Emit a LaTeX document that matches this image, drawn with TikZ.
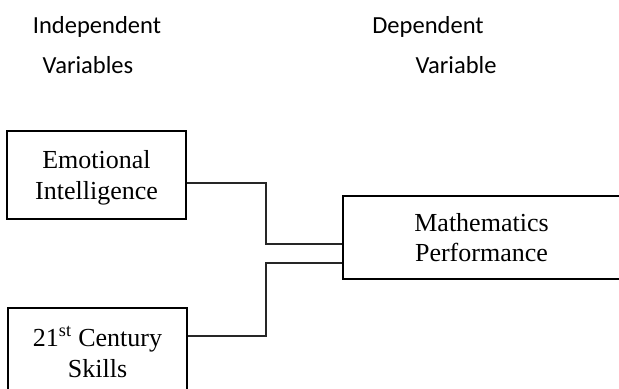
\documentclass[tikz,border=0pt]{standalone}
\usepackage{fontspec}
\setmainfont{Liberation Serif}
\newfontfamily\hdrfont{Carlito}
\begin{document}
\begin{tikzpicture}[x=0.75pt,y=-0.75pt,
  varbox/.style={draw=black, line width=1.1pt, inner sep=0pt, align=center,
    text depth=0pt, font=\fontsize{19.5pt}{23pt}\selectfont},
  hdr/.style={anchor=base, inner sep=0pt, font=\hdrfont\fontsize{18.4pt}{22pt}\selectfont},
  link/.style={draw=black!85, line width=0.8pt}]
\useasboundingbox (0,0) rectangle (619,389);
\clip (0,0) rectangle (619,389);
\node[hdr] (h1) at (97,33) {Independent};
\node[hdr] (h2) at (88,73) {Variables};
\node[hdr] (h3) at (428,33) {Dependent};
\node[hdr] (h4) at (456,73) {Variable};
\node[varbox, minimum width=134.25pt, minimum height=66pt] (ei) at (96.5,175) {Emotional\\Intelligence};
\node[varbox, minimum width=134.25pt, minimum height=66pt] (cs) at (97.5,352) {21\textsuperscript{st} Century\\Skills};
\node[varbox, minimum width=207.75pt, minimum height=62.25pt] (mp) at (481.5,237.5) {Mathematics\\Performance};
\coordinate (j1) at (266,244);
\coordinate (j2) at (266,263);
\draw[link] ([yshift=-6pt]ei.east) -| (j1) -- (mp.west |- j1);
\draw[link] ([yshift=12pt]cs.east) -| (j2) -- (mp.west |- j2);
\end{tikzpicture}
\end{document}
